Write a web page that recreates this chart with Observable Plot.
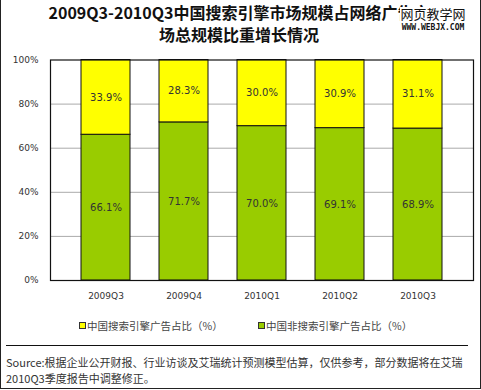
<!DOCTYPE html>
<html><head><meta charset="utf-8">
<script src="https://cdn.jsdelivr.net/npm/d3@7"></script>
<script src="https://cdn.jsdelivr.net/npm/@observablehq/plot@0.6"></script>
<style>
html,body{margin:0;padding:0;background:#fff;}
#wrap{position:relative;width:479px;height:388px;border-left:1px solid #222;border-right:1px solid #222;border-bottom:1px solid #222;overflow:hidden;font-family:"Noto Sans CJK SC",sans-serif;}
.t{position:absolute;font-weight:bold;font-size:16px;color:#111;line-height:22px;white-space:nowrap;}
#wm{position:absolute;left:399px;top:7px;width:66px;background:#fff;text-align:center;line-height:1;}
#plot{position:absolute;left:0;top:45px;}
.leg{position:absolute;top:318px;font-size:10.5px;color:#444;white-space:nowrap;}
.sw{display:inline-block;width:5px;height:5px;border:1px solid #333;margin-right:1px;vertical-align:1px;}
#sep{position:absolute;left:5px;top:345px;width:462px;height:1px;background:#111;}
.src{position:absolute;left:5px;font-size:11px;color:#333;white-space:nowrap;}
</style></head><body>
<div id="wrap">
<div class="t" style="top:1px;left:44px;width:388px;text-align:center;">2009Q3-2010Q3中国搜索引擎市场规模占网络广告市<br>场总规模比重增长情况</div>
<div id="wm"><div style="font-size:13px;color:#111;">网页教学网</div><div style="font-size:8px;font-weight:bold;margin-top:4px;font-family:'DejaVu Sans Mono',monospace;color:#111;">WWW.WEBJX.COM</div></div>
<div id="plot"></div>
<div class="leg" style="left:78px;"><span class="sw" id="sw1"></span><span id="l1"></span></div>
<div class="leg" style="left:257px;"><span class="sw" id="sw2"></span><span id="l2"></span></div>
<div id="sep"></div>
<div class="src" style="top:354px;">Source:根据企业公开财报、行业访谈及艾瑞统计预测模型估算，仅供参考，部分数据将在艾瑞</div>
<div class="src" style="top:370px;">2010Q3季度报告中调整修正。</div>
</div>
<script>
const quarters = ["2009Q3","2009Q4","2010Q1","2010Q2","2010Q3"];
const searchShare = [33.9, 28.3, 30.0, 30.9, 31.1];
const nonSearchShare = [66.1, 71.7, 70.0, 69.1, 68.9];
const seriesNames = ["中国非搜索引擎广告占比（%）", "中国搜索引擎广告占比（%）"];
const seriesColors = ["#99CC00", "#FFFF00"];
const yTicks = [0, 20, 40, 60, 80, 100];
const gridTicks = [20, 40, 60, 80];

const rows = [];
quarters.forEach((q, i) => rows.push({q, s: seriesNames[0], v: nonSearchShare[i]}));
quarters.forEach((q, i) => rows.push({q, s: seriesNames[1], v: searchShare[i]}));

document.getElementById("l1").textContent = seriesNames[1];
document.getElementById("l2").textContent = seriesNames[0];
document.getElementById("sw1").style.background = seriesColors[1];
document.getElementById("sw2").style.background = seriesColors[0];

const chart = Plot.plot({
  width: 479, height: 265,
  marginLeft: 49, marginRight: 7, marginTop: 14.5, marginBottom: 30,
  style: {fontFamily: "DejaVu Sans, sans-serif", fontSize: "9px", color: "#333", background: "transparent"},
  x: {domain: quarters, padding: 0.37, label: null, tickSize: 0, tickPadding: 12},
  y: {domain: [0, 100], ticks: yTicks, tickFormat: d => d + "%", tickSize: 0, tickPadding: 12, label: null},
  color: {domain: seriesNames, range: seriesColors},
  marks: [
    Plot.ruleY(gridTicks, {stroke: "#aaa", strokeWidth: 1}),
    Plot.barY(rows, {x: "q", y: "v", fill: "s", stroke: "#111", strokeWidth: 1, order: null}),
    Plot.text(rows, Plot.stackY({x: "q", y: "v", text: d => d.v.toFixed(1) + "%", fill: "#333", fontSize: 10, order: null})),
    Plot.frame({stroke: "#111", strokeWidth: 1.2})
  ]
});
document.getElementById("plot").appendChild(chart);
</script>
</body></html>
